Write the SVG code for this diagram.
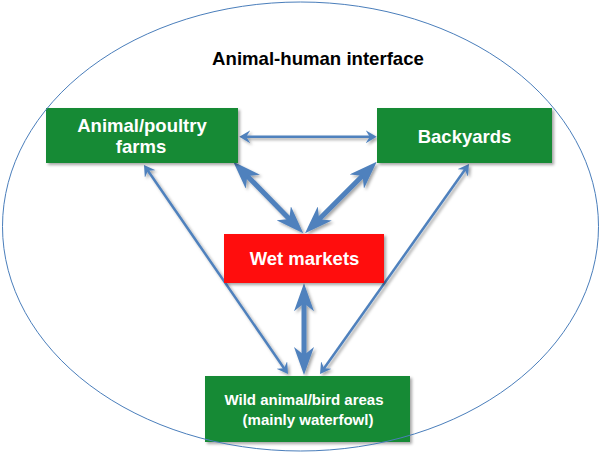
<svg xmlns="http://www.w3.org/2000/svg" width="600" height="456" viewBox="0 0 600 456">
<defs>
<style>
.lbl{font-family:"Liberation Sans",Arial,sans-serif;font-weight:bold;fill:#ffffff;text-anchor:middle}
.title{font-family:"Liberation Sans",Arial,sans-serif;font-weight:bold;fill:#000000;text-anchor:middle;font-size:18.6px}
.green{fill:#148a36}
.red{fill:#ff0b0b}
.thick{stroke:#4f81bd;stroke-width:5;fill:none;marker-start:url(#hb);marker-end:url(#hb)}
.thin{stroke:#4f81bd;stroke-width:2.5;fill:none;marker-start:url(#hs);marker-end:url(#hs)}
</style>
<filter id="sh" x="-10%" y="-10%" width="130%" height="140%">
<feDropShadow dx="2" dy="2" stdDeviation="1.5" flood-color="#000" flood-opacity="0.35"/>
</filter>
<marker id="hb" markerUnits="userSpaceOnUse" markerWidth="28" markerHeight="20" refX="14" refY="10" orient="auto-start-reverse">
<path d="M0,0 L28,10 L0,20 L8,10 z" fill="#4f81bd"/>
</marker>
<marker id="hs" markerUnits="userSpaceOnUse" markerWidth="11" markerHeight="13" refX="5.5" refY="6.5" orient="auto-start-reverse">
<path d="M0,0 L11,6.5 L0,13 L4,6.5 z" fill="#4f81bd"/>
</marker>
</defs>
<rect width="600" height="456" fill="#ffffff"/>
<g id="connectors" filter="url(#sh)">
<line class="thin" x1="244.8" y1="136.8" x2="371.2" y2="136.8"/>
<line class="thick" x1="243.1" y1="171.7" x2="293.5" y2="223.3"/>
<line class="thick" x1="366.8" y1="171.6" x2="314.9" y2="223.4"/>
<line class="thick" x1="304" y1="297.3" x2="304" y2="361"/>
<line class="thin" x1="147.1" y1="169.5" x2="284.9" y2="369.5"/>
<line class="thin" x1="465.8" y1="168.5" x2="323.2" y2="369.5"/>
</g>
<g id="farms">
<rect class="green" x="46" y="108" width="192" height="55" filter="url(#sh)"/>
<text class="lbl" x="142" y="132" font-size="18.5">Animal/poultry</text>
<text class="lbl" x="141" y="153" font-size="18.5">farms</text>
</g>
<g id="backyards">
<rect class="green" x="377" y="108" width="175" height="55" filter="url(#sh)"/>
<text class="lbl" x="464.5" y="143" font-size="18.5">Backyards</text>
</g>
<g id="wetmarkets">
<rect class="red" x="224" y="234" width="160" height="49" filter="url(#sh)"/>
<text class="lbl" x="304.5" y="265" font-size="18.5">Wet markets</text>
</g>
<g id="wild">
<rect class="green" x="205" y="376" width="205" height="66" filter="url(#sh)"/>
<text class="lbl" x="304" y="405" font-size="15">Wild animal/bird areas</text>
<text class="lbl" x="308" y="425" font-size="15">(mainly waterfowl)</text>
</g>
<g id="interface">
<ellipse cx="300.5" cy="226.5" rx="298" ry="224.5" fill="none" stroke="#4a7ebb" stroke-width="1"/>
<text class="title" x="318" y="65">Animal-human interface</text>
</g>
</svg>
